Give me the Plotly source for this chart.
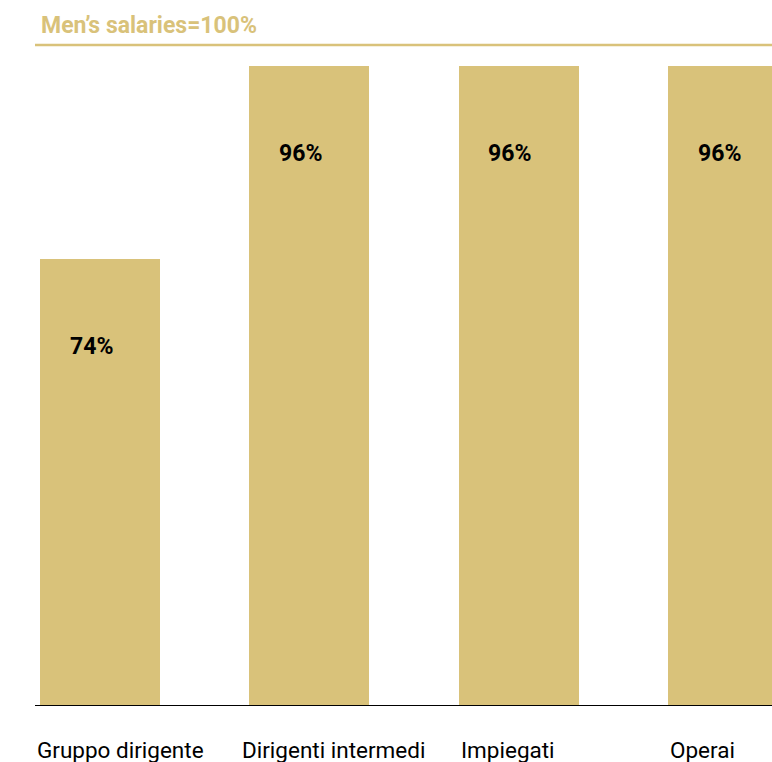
import plotly.graph_objects as go

# Women's salaries relative to men's, by job category
categories = ["Gruppo dirigente", "Dirigenti intermedi", "Impiegati", "Operai"]
values = [74, 96, 96, 96]
value_labels = ["74%", "96%", "96%", "96%"]
title_text = "Men’s salaries=100%"

GOLD = "#D9C27A"
FONT = "Roboto"
BAR_W = 0.573

positions = list(range(len(categories)))

fig = go.Figure(
    go.Bar(
        x=positions,
        y=values,
        width=BAR_W,
        marker=dict(color=GOLD, line=dict(width=0)),
        hoverinfo="skip",
    )
)

annotations = []
# value labels, placed a fixed distance below each bar's top
for p, v, lab in zip(positions, values, value_labels):
    annotations.append(dict(
        x=p, y=v, xref="x", yref="y", text=f"<b>{lab}</b>",
        showarrow=False, xanchor="center", yanchor="middle",
        xshift=-9, yshift=-88,
        font=dict(family=FONT, size=23, color="#000000"),
    ))

# category names, left-aligned under each bar
cat_shifts = [-5, -9, 0, 0]
for p, c, s in zip(positions, categories, cat_shifts):
    annotations.append(dict(
        x=p - BAR_W / 2, y=0, xref="x", yref="paper", text=c,
        showarrow=False, xanchor="left", yanchor="middle",
        xshift=s, yshift=-45,
        font=dict(family=FONT, size=22.5, color="#000000"),
    ))

# header text above the reference rule
annotations.append(dict(
    x=0, y=1, xref="paper", yref="paper", text=f"<b>{title_text}</b>",
    showarrow=False, xanchor="left", yanchor="middle",
    xshift=4, yshift=20,
    font=dict(family=FONT, size=23, color=GOLD),
))

fig.update_layout(
    width=772, height=762,
    margin=dict(l=35, r=0, t=45, b=57),
    paper_bgcolor="white", plot_bgcolor="white",
    showlegend=False,
    bargap=0,
    xaxis=dict(
        range=[-0.3105, 3.21],
        showgrid=False, zeroline=False, showticklabels=False,
        showline=True, linecolor="#000000", linewidth=1.3, ticks="",
    ),
    yaxis=dict(
        range=[23.16, 98.39],
        showgrid=False, zeroline=False, showticklabels=False,
        showline=False, ticks="",
    ),
    shapes=[dict(
        type="line", xref="paper", yref="paper",
        x0=0, x1=1, y0=1, y1=1,
        line=dict(color=GOLD, width=2.5),
    )],
    annotations=annotations,
)

fig.write_html("out.html")
